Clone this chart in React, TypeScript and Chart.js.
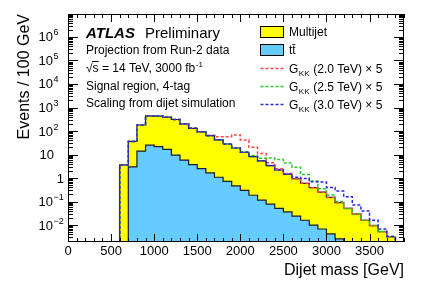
import React, { useEffect, useRef } from "react";
import { Chart, registerables } from "chart.js";

Chart.register(...registerables);

// ---------- data ----------
const BIN_WIDTH = 100;
const binLowEdges = [
  600, 700, 800, 900, 1000, 1100, 1200, 1300, 1400, 1500, 1600, 1700, 1800, 1900, 2000, 2100,
  2200, 2300, 2400, 2500, 2600, 2700, 2800, 2900, 3000, 3100, 3200, 3300, 3400, 3500, 3600, 3700,
];
const multijet = [
  3.6, 33, 166, 415, 409, 373, 300, 194, 126, 89.5, 61.4, 41, 27.3, 18.5, 12.2, 8.0,
  5.3, 3.32, 2.15, 1.41, 0.91, 0.58, 0.38, 0.243, 0.146, 0.088, 0.051, 0.03, 0.016, 0.0095, 0.0053, 0.0031,
];
const ttbar = [
  0, 3.0, 14, 25, 21.5, 16.6, 9.5, 5.8, 3.7, 2.5, 1.65, 1.08, 0.72, 0.46, 0.3, 0.185,
  0.115, 0.078, 0.051, 0.036, 0.024, 0.016, 0.01, 0.0068, 0.0042, 0.0026, 0, 0, 0, 0, 0, 0,
];
const gkk2000x5 = [
  0, 0, 0, 0, 0, 0, 0, 0.5, 1, 2, 3, 15, 29, 49, 28.5, 12,
  5.6, 1.1, 0.3, 0.1, 0, 0, 0, 0, 0, 0, 0, 0, 0, 0, 0, 0,
];
const gkk2500x5 = [
  0, 0, 0, 0, 0, 0, 0, 0, 0, 0, 0, 0, 0, 0, 0.5, 0.8,
  1.5, 3.8, 4.0, 2.95, 1.97, 0.8, 0.36, 0.1, 0.04, 0.01, 0, 0, 0, 0, 0, 0,
];
const gkk3000x5 = [
  0, 0, 0, 0, 0, 0, 0, 0, 0, 0, 0, 0, 0, 0, 0, 0,
  0, 0, 0, 0.05, 0.15, 0.35, 0.3, 0.43, 0.25, 0.19, 0.109, 0.041, 0.024, 0.0065, 0.0015, 0.0002,
];
const xTickValues = [0, 500, 1000, 1500, 2000, 2500, 3000, 3500];
const xTickLabels = ["0", "500", "1000", "1500", "2000", "2500", "3000", "3500"];
const yTickExponents = [-2, -1, 0, 1, 2, 3, 4, 5, 6];
const textLines = [
  "Projection from Run-2 data",
  "√s = 14 TeV, 3000 fb",
  "Signal region, 4-tag",
  "Scaling from dijet simulation",
];
const legendSignals = [
  { mass: "(2.0 TeV) × 5", color: "rgb(255,70,70)" },
  { mass: "(2.5 TeV) × 5", color: "rgb(40,200,40)" },
  { mass: "(3.0 TeV) × 5", color: "rgb(40,40,230)" },
];

// ---------- helpers ----------
const X_MIN = 0;
const X_MAX = 3900;
const Y_MIN = 0.0019;
const Y_MAX = 9.5e6;
const FLOOR = 1e-6;
const FONT = '"Liberation Sans", Arial, Helvetica, sans-serif';

function histPoints(values: number[]) {
  const pts: { x: number; y: number }[] = [{ x: binLowEdges[0], y: FLOOR }];
  values.forEach((v, i) => pts.push({ x: binLowEdges[i], y: v > 0 ? v : FLOOR }));
  const end = binLowEdges[binLowEdges.length - 1] + BIN_WIDTH;
  const last = values[values.length - 1];
  pts.push({ x: end, y: last > 0 ? last : FLOOR });
  pts.push({ x: end, y: FLOOR });
  return pts;
}

const total = multijet.map((v, i) => v + ttbar[i]);
const withSignal = (sig: number[]) => total.map((v, i) => v + sig[i]);

const overlayPlugin = {
  id: "atlasOverlay",
  afterDraw(chart: any) {
    const { ctx, chartArea: a, scales } = chart;
    const xs = scales.x;
    const ys = scales.y;
    ctx.save();
    ctx.setLineDash([]);
    ctx.strokeStyle = "#000";
    ctx.lineWidth = 1;
    ctx.strokeRect(a.left + 0.5, a.top + 0.5, a.right - a.left - 1, a.bottom - a.top - 1);

    ctx.beginPath();
    for (let v = X_MIN; v <= X_MAX; v += 100) {
      const px = Math.round(xs.getPixelForValue(v)) + 0.5;
      const len = v % 500 === 0 ? 8 : 4;
      ctx.moveTo(px, a.bottom);
      ctx.lineTo(px, a.bottom - len);
      ctx.moveTo(px, a.top);
      ctx.lineTo(px, a.top + len);
    }
    for (let n = -3; n <= 7; n++) {
      for (let k = 1; k <= 9; k++) {
        const v = k * Math.pow(10, n);
        if (v < Y_MIN || v > Y_MAX) continue;
        const py = Math.round(ys.getPixelForValue(v)) + 0.5;
        const len = k === 1 ? 10 : 5;
        ctx.moveTo(a.left, py);
        ctx.lineTo(a.left + len, py);
        ctx.moveTo(a.right, py);
        ctx.lineTo(a.right - len, py);
      }
    }
    ctx.stroke();

    // tick labels
    ctx.fillStyle = "#000";
    ctx.font = `13px ${FONT}`;
    ctx.textAlign = "center";
    ctx.textBaseline = "alphabetic";
    xTickValues.forEach((v, i) => ctx.fillText(xTickLabels[i], xs.getPixelForValue(v), a.bottom + 12.5));

    yTickExponents.forEach((n) => {
      const py = ys.getPixelForValue(Math.pow(10, n));
      ctx.font = `13px ${FONT}`;
      ctx.textAlign = "right";
      if (n === 0) {
        ctx.fillText("1", a.left - 4, py + 4.5);
      } else if (n === 1) {
        ctx.fillText("10", a.left - 14, py + 4.5);
      } else {
        ctx.fillText("10", a.left - 15, py + 4.5);
        ctx.font = `9px ${FONT}`;
        ctx.textAlign = "left";
        ctx.fillText(n < 0 ? "\u2212" + -n : String(n), a.left - 14.5, py - 1.5);
      }
    });

    // axis titles
    ctx.font = `16px ${FONT}`;
    ctx.textAlign = "right";
    ctx.fillText("Dijet mass [GeV]", a.right, 275);
    ctx.save();
    ctx.translate(28.5, a.top);
    ctx.rotate(-Math.PI / 2);
    ctx.textAlign = "right";
    ctx.fillText("Events / 100 GeV", 0, 0);
    ctx.restore();

    // ATLAS label
    ctx.textAlign = "left";
    ctx.font = `bold italic 15px ${FONT}`;
    ctx.fillText("ATLAS", 86, 37.5);
    ctx.font = `15px ${FONT}`;
    ctx.fillText("Preliminary", 145, 37.5);

    ctx.font = `12px ${FONT}`;
    const baselines = [53.5, 71.5, 89.5, 106.5];
    textLines.forEach((t, i) => ctx.fillText(t, 86, baselines[i]));
    // superscript for luminosity and radical bar
    const w = ctx.measureText(textLines[1]).width;
    ctx.font = `8px ${FONT}`;
    ctx.fillText("-1", 86 + w + 0.5, 66.5);
    ctx.font = `12px ${FONT}`;
    const wr = ctx.measureText("√").width;
    const ws = ctx.measureText("s").width;
    ctx.beginPath();
    ctx.moveTo(86 + wr - 0.5, 61.5);
    ctx.lineTo(86 + wr + ws, 61.5);
    ctx.stroke();

    // legend
    const lx = 260.5;
    const lw = 23;
    ctx.fillStyle = "#ffff00";
    ctx.fillRect(lx, 26.5, lw, 11);
    ctx.strokeRect(lx, 26.5, lw, 11);
    ctx.fillStyle = "#66ccff";
    ctx.fillRect(lx, 44.5, lw, 11);
    ctx.strokeRect(lx, 44.5, lw, 11);
    ctx.fillStyle = "#000";
    ctx.font = `12px ${FONT}`;
    ctx.fillText("Multijet", 289, 36);
    ctx.fillText("tt\u0304", 289, 54);

    const ly = [68.5, 86.5, 104.5];
    legendSignals.forEach((s, i) => {
      ctx.strokeStyle = s.color;
      ctx.lineWidth = 1.5;
      ctx.setLineDash([3, 2]);
      ctx.beginPath();
      ctx.moveTo(lx, ly[i]);
      ctx.lineTo(lx + 24, ly[i]);
      ctx.stroke();
      ctx.setLineDash([]);
      ctx.fillStyle = "#000";
      ctx.font = `12px ${FONT}`;
      ctx.fillText("G", 289, ly[i] + 4.5);
      const gw = ctx.measureText("G").width;
      ctx.font = `8px ${FONT}`;
      ctx.fillText("KK", 289 + gw + 0.5, ly[i] + 7.5);
      const kw = ctx.measureText("KK").width;
      ctx.font = `12px ${FONT}`;
      ctx.fillText(" " + s.mass, 289 + gw + kw + 1, ly[i] + 4.5);
    });
    ctx.restore();
  },
};

export default function App() {
  const canvasRef = useRef<HTMLCanvasElement | null>(null);

  useEffect(() => {
    document.body.style.margin = "0";
    const canvas = canvasRef.current;
    if (!canvas) return;
    const common = {
      stepped: "before" as const,
      pointRadius: 0,
      pointHoverRadius: 0,
      tension: 0,
      clip: 0,
    };
    const chart = new Chart(canvas, {
      type: "line",
      data: {
        datasets: [
          {
            ...common,
            label: "Multijet",
            data: histPoints(total),
            borderColor: "#1a1a1a",
            borderWidth: 1.2,
            backgroundColor: "#ffff00",
            fill: "start",
            order: 5,
          },
          {
            ...common,
            label: "ttbar",
            data: histPoints(ttbar),
            borderColor: "#1a1a2a",
            borderWidth: 1.2,
            backgroundColor: "#66ccff",
            fill: "start",
            order: 4,
          },
          ...legendSignals.map((s, i) => ({
            ...common,
            label: "GKK " + s.mass,
            data: histPoints(withSignal([gkk2000x5, gkk2500x5, gkk3000x5][i])),
            borderColor: s.color,
            borderWidth: 1.5,
            borderDash: [3, 2],
            fill: false,
            order: 3 - i,
          })),
        ],
      },
      options: {
        animation: false,
        responsive: false,
        devicePixelRatio: 1,
        events: [],
        layout: { padding: { left: 68, top: 14, right: 21, bottom: 46 } },
        plugins: { legend: { display: false }, tooltip: { enabled: false } },
        scales: {
          x: { type: "linear", min: X_MIN, max: X_MAX, display: false },
          y: { type: "logarithmic", min: Y_MIN, max: Y_MAX, display: false },
        },
      },
      plugins: [overlayPlugin],
    });
    return () => chart.destroy();
  }, []);

  return (
    <div style={{ width: 425, height: 288, background: "#fff" }}>
      <canvas ref={canvasRef} width={425} height={288} />
    </div>
  );
}
